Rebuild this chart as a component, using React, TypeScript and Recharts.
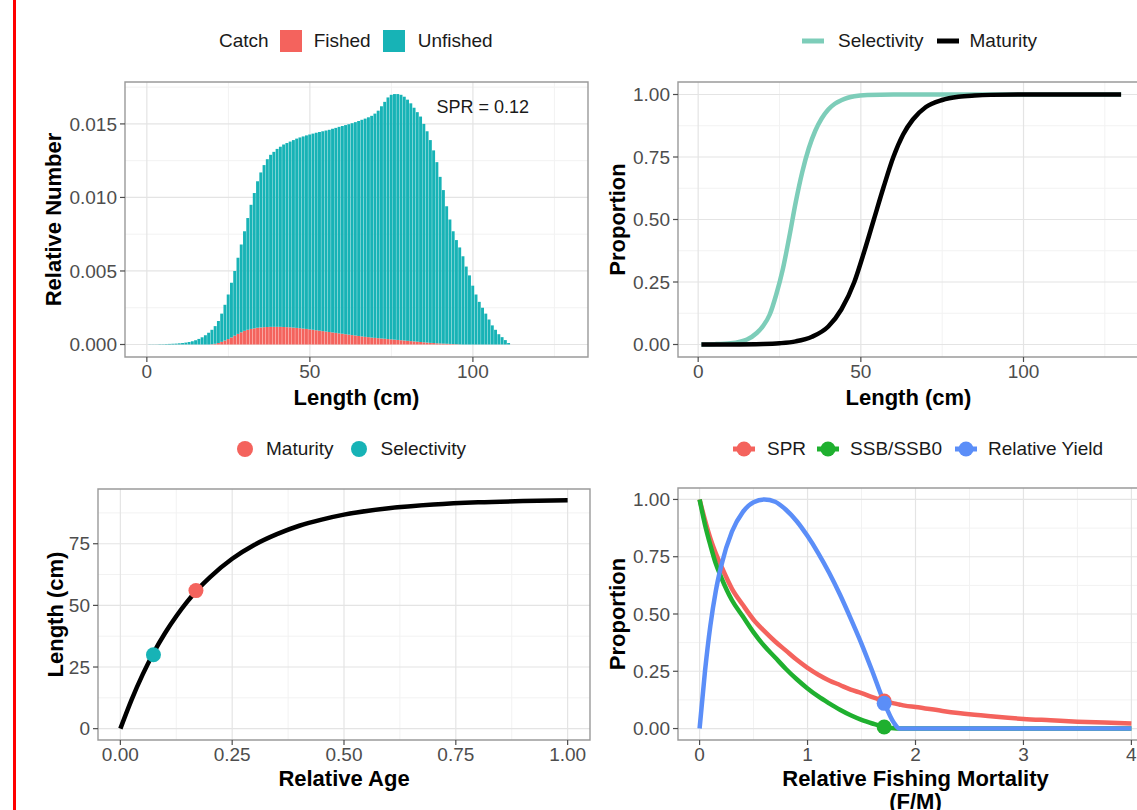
import React from 'react'
import {
  ComposedChart,
  Bar,
  Line,
  Scatter,
  XAxis,
  YAxis,
  CartesianGrid,
  ReferenceArea,
  ReferenceDot,
  Label,
} from 'recharts'

const FONT = '"Liberation Sans", Arial, Helvetica, sans-serif'
const RED = '#f4635d'
const TEAL = '#17b3b6'
const SEL_TEAL = '#7dcdb9'
const GREEN = '#1fb02f'
const BLUE = '#5b8ef8'

// top left: length composition (1 cm bins)
const lengthBins = [
  1, 2, 3, 4, 5, 6, 7, 8, 9, 10, 11, 12, 13, 14, 15, 16, 17, 18, 19, 20,
  21, 22, 23, 24, 25, 26, 27, 28, 29, 30, 31, 32, 33, 34, 35, 36, 37, 38, 39, 40,
  41, 42, 43, 44, 45, 46, 47, 48, 49, 50, 51, 52, 53, 54, 55, 56, 57, 58, 59, 60,
  61, 62, 63, 64, 65, 66, 67, 68, 69, 70, 71, 72, 73, 74, 75, 76, 77, 78, 79, 80,
  81, 82, 83, 84, 85, 86, 87, 88, 89, 90, 91, 92, 93, 94, 95, 96, 97, 98, 99, 100,
  101, 102, 103, 104, 105, 106, 107, 108, 109, 110, 111,
]
const unfished = [
  0.00001, 0.00001, 0.00001, 0.00002, 0.00002, 0.00003, 0.00004, 0.00005, 0.00006, 0.00008,
  0.0001, 0.00013, 0.00017, 0.00022, 0.00029, 0.00038, 0.00049, 0.00063, 0.0008, 0.001,
  0.00125, 0.0016, 0.0021, 0.0027, 0.0034, 0.0042, 0.005, 0.0059, 0.0068, 0.0077,
  0.0086, 0.0095, 0.0103, 0.0111, 0.0117, 0.0122, 0.0126, 0.0129, 0.0131, 0.0133,
  0.01345, 0.0136, 0.0137, 0.0138, 0.0139, 0.014, 0.01408, 0.01415, 0.01422, 0.01428,
  0.01434, 0.0144, 0.01445, 0.0145, 0.01455, 0.0146, 0.01467, 0.01473, 0.0148, 0.01486,
  0.01492, 0.01498, 0.01505, 0.01512, 0.0152, 0.01528, 0.01536, 0.01545, 0.01555, 0.0157,
  0.0159, 0.0162, 0.0165, 0.0168, 0.01698, 0.01703, 0.01703, 0.01698, 0.01685, 0.01665,
  0.0164, 0.0161, 0.0158, 0.0155, 0.015, 0.0145, 0.0139, 0.0132, 0.0124, 0.0114,
  0.0105, 0.0094, 0.0085, 0.0077, 0.0071, 0.0066, 0.006, 0.0053, 0.0047, 0.004,
  0.0034, 0.0029, 0.0025, 0.0021, 0.0017, 0.0013, 0.001, 0.0007, 0.0005, 0.0003,
  0.0001,
]
const fished = [
  0, 0, 0, 0, 0, 0, 0, 0, 0, 0,
  0, 0, 0, 0, 0, 0, 0, 0, 0, 0.00002,
  0.00005, 0.0001, 0.00018, 0.00027, 0.00037, 0.00048, 0.0006, 0.00072, 0.00083, 0.00093,
  0.001, 0.00106, 0.0011, 0.00114, 0.00116, 0.00118, 0.00119, 0.0012, 0.0012, 0.0012,
  0.0012, 0.00119, 0.00118, 0.00117, 0.00115, 0.00113, 0.00111, 0.00108, 0.00106, 0.00103,
  0.001, 0.00097, 0.00094, 0.00091, 0.00088, 0.00085, 0.00082, 0.00079, 0.00076, 0.00073,
  0.0007, 0.00067, 0.00064, 0.00061, 0.00058, 0.00055, 0.00052, 0.0005, 0.00047, 0.00045,
  0.00043, 0.00041, 0.00039, 0.00037, 0.00035, 0.00033, 0.00031, 0.00029, 0.00027, 0.00025,
  0.00023, 0.00021, 0.00019, 0.00017, 0.00015, 0.00013, 0.00011, 0.0001, 0.00008, 0.00007,
  0.00006, 0.00005, 0.00004, 0.00003, 0.00002, 0.00001, 0, 0, 0, 0,
  0, 0, 0, 0, 0, 0, 0, 0, 0, 0,
  0,
]
const sprLabel = 'SPR = 0.12'

// top right: selectivity and maturity at length
const selLen = [1, 5, 10, 15, 18, 20, 22, 24, 26, 28, 30, 32, 34, 36, 38, 40, 42, 44, 46, 48, 52, 60, 80, 100, 130]
const selVal = [
  0.0004, 0.0013, 0.005, 0.02, 0.046, 0.075, 0.12, 0.2, 0.3, 0.43, 0.57, 0.69, 0.785,
  0.855, 0.905, 0.94, 0.963, 0.977, 0.987, 0.993, 0.998, 1, 1, 1, 1,
]
const matLen = [1, 10, 20, 25, 30, 35, 40, 44, 48, 51, 54, 57, 60, 63, 66, 70, 75, 80, 85, 90, 100, 130]
const matVal = [
  0.0001, 0.0003, 0.002, 0.005, 0.0125, 0.031, 0.072, 0.14, 0.25, 0.37, 0.5, 0.63, 0.75,
  0.84, 0.9, 0.95, 0.978, 0.991, 0.996, 0.9985, 1, 1,
]

// bottom left: growth curve
const relAge = [0, 0.025, 0.05, 0.075, 0.1, 0.125, 0.15, 0.175, 0.2, 0.25, 0.3, 0.35, 0.4, 0.45, 0.5, 0.6, 0.7, 0.8, 0.9, 1.0]
const lenAtAge = [0, 11.7, 22.0, 31.0, 38.8, 45.6, 51.6, 56.9, 61.4, 68.9, 74.6, 78.9, 82.3, 84.8, 86.8, 89.4, 90.9, 91.8, 92.3, 92.6]
const maturityAt = { x: 0.169, y: 56 }
const selectivityAt = { x: 0.074, y: 30 }

// bottom right: per-recruit curves vs F/M
const fm = [
  0, 0.05, 0.1, 0.15, 0.2, 0.3, 0.4, 0.5, 0.6, 0.7, 0.8, 0.9, 1.0, 1.1, 1.2, 1.3,
  1.4, 1.5, 1.6, 1.7, 1.8, 1.85, 1.9, 2.0, 2.25, 2.5, 2.75, 3.0, 3.25, 3.5, 3.75, 4.0,
]
const spr = [
  1, 0.91, 0.83, 0.765, 0.71, 0.61, 0.54, 0.475, 0.425, 0.38, 0.34, 0.3, 0.265, 0.235, 0.21, 0.19,
  0.17, 0.155, 0.137, 0.122, 0.11, 0.105, 0.1, 0.094, 0.077, 0.062, 0.051, 0.042, 0.036, 0.03, 0.026, 0.022,
]
const ssb = [
  1, 0.89, 0.8, 0.72, 0.66, 0.56, 0.49, 0.42, 0.36, 0.31, 0.26, 0.215, 0.175, 0.14, 0.11, 0.082,
  0.058, 0.038, 0.022, 0.008, 0.001, 0, 0, 0, 0, 0, 0, 0, 0, 0, 0, 0,
]
const relYield = [
  0, 0.25, 0.45, 0.6, 0.71, 0.86, 0.945, 0.988, 1, 0.99, 0.955, 0.905, 0.84, 0.765, 0.68, 0.585,
  0.48, 0.37, 0.25, 0.125, 0.025, 0, 0, 0, 0, 0, 0, 0, 0, 0, 0, 0,
]
const currentF = 1.71
const currentSpr = 0.12
const currentSsb = 0.007
const currentYield = 0.11

const lengthData = lengthBins.map((len, i) => ({ len, fished: fished[i], rest: unfished[i] - fished[i] }))
const selData = selLen.map((x, i) => ({ x, y: selVal[i] }))
const matData = matLen.map((x, i) => ({ x, y: matVal[i] }))
const growthData = relAge.map((x, i) => ({ x, y: lenAtAge[i] }))
const sprData = fm.map((x, i) => ({ x, y: spr[i] }))
const ssbData = fm.map((x, i) => ({ x, y: ssb[i] }))
const yieldData = fm.map((x, i) => ({ x, y: relYield[i] }))

const tickStyle = { fill: '#4d4d4d', fontSize: 19 }
const tickLine = { stroke: '#4d4d4d', strokeWidth: 1.2 }
const MINOR = '#f2f2f2'
const MAJOR = '#e4e4e4'
const BORDER = '#9a9a9a'

const xTitle = (lines: string[], base: number) => (props: any) => {
  const { x, y, width } = props.viewBox
  const cx = x + width / 2
  return (
    <text x={cx} y={y + base} textAnchor="middle" fontSize={22} fontWeight="bold" fill="#000">
      {lines.map((t, i) => (
        <tspan key={i} x={cx} dy={i === 0 ? 0 : 23}>
          {t}
        </tspan>
      ))}
    </text>
  )
}

const yTitle = (text: string, dx: number) => (props: any) => {
  const { x, y, height } = props.viewBox
  const cx = x + dx
  const cy = y + height / 2
  return (
    <text
      x={cx}
      y={cy}
      transform={`rotate(-90 ${cx} ${cy})`}
      textAnchor="middle"
      dominantBaseline="central"
      fontSize={22}
      fontWeight="bold"
      fill="#000"
    >
      {text}
    </text>
  )
}

const dot = (color: string) => (p: any) => <circle cx={p.cx} cy={p.cy} r={7.5} fill={color} />

const legendText: React.CSSProperties = { fontSize: 19, color: '#1a1a1a', whiteSpace: 'nowrap' }

function LineKey({ color, withDot }: { color: string; withDot?: boolean }) {
  return (
    <svg width={22} height={22} style={{ display: 'block' }}>
      <line x1={0} y1={11} x2={22} y2={11} stroke={color} strokeWidth={5} />
      {withDot && <circle cx={11} cy={11} r={7.5} fill={color} />}
    </svg>
  )
}

function LengthComposition() {
  const xDom: [number, number] = [-6.7, 135.3]
  const yDom: [number, number] = [-0.00085, 0.01785]
  return (
    <div style={{ position: 'absolute', left: 30, top: 72 }}>
      <ComposedChart width={562} height={347} data={lengthData} margin={{ top: 10, right: 4, bottom: 0, left: 0 }} barCategoryGap={0} barGap={0}>
        <CartesianGrid verticalValues={[25, 75, 125]} horizontalValues={[0.0025, 0.0075, 0.0125, 0.0175]} stroke={MINOR} strokeWidth={1} />
        <CartesianGrid verticalValues={[0, 50, 100]} horizontalValues={[0, 0.005, 0.01, 0.015]} stroke={MAJOR} strokeWidth={1.2} />
        <XAxis
          dataKey="len"
          type="number"
          domain={xDom}
          allowDataOverflow
          ticks={[0, 50, 100]}
          tick={tickStyle}
          tickLine={tickLine}
          tickSize={5}
          tickMargin={3}
          axisLine={false}
          height={62}
        >
          <Label content={xTitle(['Length (cm)'], 48)} />
        </XAxis>
        <YAxis
          type="number"
          domain={yDom}
          allowDataOverflow
          ticks={[0, 0.005, 0.01, 0.015]}
          tickFormatter={(v: number) => v.toFixed(3)}
          tick={tickStyle}
          tickLine={tickLine}
          tickSize={5}
          tickMargin={3}
          axisLine={false}
          width={95}
        >
          <Label content={yTitle('Relative Number', 23)} />
        </YAxis>
        <Bar dataKey="fished" stackId="c" fill={RED} barSize={3.3} isAnimationActive={false} />
        <Bar dataKey="rest" stackId="c" fill={TEAL} barSize={3.3} isAnimationActive={false} />
        <ReferenceDot
          x={103}
          y={0.0162}
          r={1}
          fill="none"
          stroke="none"
          label={{ value: sprLabel, position: 'center', fill: '#1a1a1a', fontSize: 18 }}
        />
        <ReferenceArea x1={xDom[0]} x2={xDom[1]} y1={yDom[0]} y2={yDom[1]} fill="none" fillOpacity={0} stroke={BORDER} strokeWidth={1.4} ifOverflow="visible" />
      </ComposedChart>
    </div>
  )
}

function SelectivityMaturity() {
  const xDom: [number, number] = [-6.2, 135.5]
  const yDom: [number, number] = [-0.05, 1.05]
  return (
    <div style={{ position: 'absolute', left: 600, top: 72 }}>
      <ComposedChart width={543} height={347} margin={{ top: 10, right: 4, bottom: 0, left: 0 }}>
        <CartesianGrid verticalValues={[25, 75, 125]} horizontalValues={[0.125, 0.375, 0.625, 0.875]} stroke={MINOR} strokeWidth={1} />
        <CartesianGrid verticalValues={[0, 50, 100]} horizontalValues={[0, 0.25, 0.5, 0.75, 1]} stroke={MAJOR} strokeWidth={1.2} />
        <XAxis
          dataKey="x"
          type="number"
          domain={xDom}
          allowDataOverflow
          ticks={[0, 50, 100]}
          tick={tickStyle}
          tickLine={tickLine}
          tickSize={5}
          tickMargin={3}
          axisLine={false}
          height={62}
        >
          <Label content={xTitle(['Length (cm)'], 48)} />
        </XAxis>
        <YAxis
          dataKey="y"
          type="number"
          domain={yDom}
          allowDataOverflow
          ticks={[0, 0.25, 0.5, 0.75, 1]}
          tickFormatter={(v: number) => v.toFixed(2)}
          tick={tickStyle}
          tickLine={tickLine}
          tickSize={5}
          tickMargin={3}
          axisLine={false}
          width={78}
        >
          <Label content={yTitle('Proportion', 17)} />
        </YAxis>
        <Line data={selData} dataKey="y" type="monotone" stroke={SEL_TEAL} strokeWidth={4.5} dot={false} activeDot={false} isAnimationActive={false} />
        <Line data={matData} dataKey="y" type="monotone" stroke="#000" strokeWidth={4.5} dot={false} activeDot={false} isAnimationActive={false} />
        <ReferenceArea x1={xDom[0]} x2={xDom[1]} y1={yDom[0]} y2={yDom[1]} fill="none" fillOpacity={0} stroke={BORDER} strokeWidth={1.4} ifOverflow="visible" />
      </ComposedChart>
    </div>
  )
}

function Growth() {
  const xDom: [number, number] = [-0.05, 1.05]
  const yDom: [number, number] = [-4.6, 97.2]
  return (
    <div style={{ position: 'absolute', left: 30, top: 479 }}>
      <ComposedChart width={564} height={323} margin={{ top: 10, right: 4, bottom: 0, left: 0 }}>
        <CartesianGrid verticalValues={[0.125, 0.375, 0.625, 0.875]} horizontalValues={[12.5, 37.5, 62.5, 87.5]} stroke={MINOR} strokeWidth={1} />
        <CartesianGrid verticalValues={[0, 0.25, 0.5, 0.75, 1]} horizontalValues={[0, 25, 50, 75]} stroke={MAJOR} strokeWidth={1.2} />
        <XAxis
          dataKey="x"
          type="number"
          domain={xDom}
          allowDataOverflow
          ticks={[0, 0.25, 0.5, 0.75, 1]}
          tickFormatter={(v: number) => v.toFixed(2)}
          tick={tickStyle}
          tickLine={tickLine}
          tickSize={5}
          tickMargin={3}
          axisLine={false}
          height={62}
        >
          <Label content={xTitle(['Relative Age'], 46)} />
        </XAxis>
        <YAxis
          dataKey="y"
          type="number"
          domain={yDom}
          allowDataOverflow
          ticks={[0, 25, 50, 75]}
          tick={tickStyle}
          tickLine={tickLine}
          tickSize={5}
          tickMargin={3}
          axisLine={false}
          width={68}
        >
          <Label content={yTitle('Length (cm)', 25)} />
        </YAxis>
        <Line data={growthData} dataKey="y" type="monotone" stroke="#000" strokeWidth={4.5} dot={false} activeDot={false} isAnimationActive={false} />
        <Scatter data={[maturityAt]} fill={RED} shape={dot(RED)} isAnimationActive={false} />
        <Scatter data={[selectivityAt]} fill={TEAL} shape={dot(TEAL)} isAnimationActive={false} />
        <ReferenceArea x1={xDom[0]} x2={xDom[1]} y1={yDom[0]} y2={yDom[1]} fill="none" fillOpacity={0} stroke={BORDER} strokeWidth={1.4} ifOverflow="visible" />
      </ComposedChart>
    </div>
  )
}

function PerRecruit() {
  const xDom: [number, number] = [-0.2, 4.2]
  const yDom: [number, number] = [-0.05, 1.05]
  return (
    <div style={{ position: 'absolute', left: 600, top: 478 }}>
      <ComposedChart width={557} height={352} margin={{ top: 10, right: 4, bottom: 0, left: 0 }}>
        <CartesianGrid verticalValues={[0.5, 1.5, 2.5, 3.5]} horizontalValues={[0.125, 0.375, 0.625, 0.875]} stroke={MINOR} strokeWidth={1} />
        <CartesianGrid verticalValues={[0, 1, 2, 3, 4]} horizontalValues={[0, 0.25, 0.5, 0.75, 1]} stroke={MAJOR} strokeWidth={1.2} />
        <XAxis
          dataKey="x"
          type="number"
          domain={xDom}
          allowDataOverflow
          ticks={[0, 1, 2, 3, 4]}
          tick={tickStyle}
          tickLine={tickLine}
          tickSize={5}
          tickMargin={3}
          axisLine={false}
          height={90}
        >
          <Label content={xTitle(['Relative Fishing Mortality', '(F/M)'], 46)} />
        </XAxis>
        <YAxis
          dataKey="y"
          type="number"
          domain={yDom}
          allowDataOverflow
          ticks={[0, 0.25, 0.5, 0.75, 1]}
          tickFormatter={(v: number) => v.toFixed(2)}
          tick={tickStyle}
          tickLine={tickLine}
          tickSize={5}
          tickMargin={3}
          axisLine={false}
          width={78}
        >
          <Label content={yTitle('Proportion', 17)} />
        </YAxis>
        <Line data={sprData} dataKey="y" type="monotone" stroke={RED} strokeWidth={4.5} dot={false} activeDot={false} isAnimationActive={false} />
        <Line data={ssbData} dataKey="y" type="monotone" stroke={GREEN} strokeWidth={4.5} dot={false} activeDot={false} isAnimationActive={false} />
        <Line data={yieldData} dataKey="y" type="monotone" stroke={BLUE} strokeWidth={4.5} dot={false} activeDot={false} isAnimationActive={false} />
        <Scatter data={[{ x: currentF, y: currentSpr }]} fill={RED} shape={dot(RED)} isAnimationActive={false} />
        <Scatter data={[{ x: currentF, y: currentSsb }]} fill={GREEN} shape={dot(GREEN)} isAnimationActive={false} />
        <Scatter data={[{ x: currentF, y: currentYield }]} fill={BLUE} shape={dot(BLUE)} isAnimationActive={false} />
        <ReferenceArea x1={xDom[0]} x2={xDom[1]} y1={yDom[0]} y2={yDom[1]} fill="none" fillOpacity={0} stroke={BORDER} strokeWidth={1.4} ifOverflow="visible" />
      </ComposedChart>
    </div>
  )
}

export default function App() {
  return (
    <div
      style={{
        position: 'absolute',
        left: 0,
        top: 0,
        width: 1137,
        height: 810,
        overflow: 'hidden',
        background: '#fff',
        fontFamily: FONT,
      }}
    >
      <div style={{ position: 'absolute', left: 13, top: 0, width: 3, height: 810, background: '#ff0000' }} />

      {/* top left legend */}
      <div style={{ position: 'absolute', left: 219, top: 30, height: 22, display: 'flex', alignItems: 'center', ...legendText }}>
        <span>Catch</span>
        <span style={{ width: 22, height: 22, background: RED, marginLeft: 11 }} />
        <span style={{ marginLeft: 12 }}>Fished</span>
        <span style={{ width: 22, height: 22, background: TEAL, marginLeft: 12 }} />
        <span style={{ marginLeft: 13 }}>Unfished</span>
      </div>

      {/* top right legend */}
      <div style={{ position: 'absolute', left: 802, top: 30, height: 22, display: 'flex', alignItems: 'center', ...legendText }}>
        <LineKey color={SEL_TEAL} />
        <span style={{ marginLeft: 14 }}>Selectivity</span>
        <span style={{ marginLeft: 13 }}>
          <LineKey color="#000" />
        </span>
        <span style={{ marginLeft: 11 }}>Maturity</span>
      </div>

      {/* bottom left legend */}
      <div style={{ position: 'absolute', left: 237, top: 438, height: 22, display: 'flex', alignItems: 'center', ...legendText }}>
        <span style={{ width: 16, height: 16, borderRadius: 8, background: RED }} />
        <span style={{ marginLeft: 13 }}>Maturity</span>
        <span style={{ width: 16, height: 16, borderRadius: 8, background: TEAL, marginLeft: 17 }} />
        <span style={{ marginLeft: 14 }}>Selectivity</span>
      </div>

      {/* bottom right legend */}
      <div style={{ position: 'absolute', left: 733, top: 438, height: 22, display: 'flex', alignItems: 'center', ...legendText }}>
        <LineKey color={RED} withDot />
        <span style={{ marginLeft: 12 }}>SPR</span>
        <span style={{ marginLeft: 11 }}>
          <LineKey color={GREEN} withDot />
        </span>
        <span style={{ marginLeft: 11 }}>SSB/SSB0</span>
        <span style={{ marginLeft: 13 }}>
          <LineKey color={BLUE} withDot />
        </span>
        <span style={{ marginLeft: 11 }}>Relative Yield</span>
      </div>

      <LengthComposition />
      <SelectivityMaturity />
      <Growth />
      <PerRecruit />
    </div>
  )
}
